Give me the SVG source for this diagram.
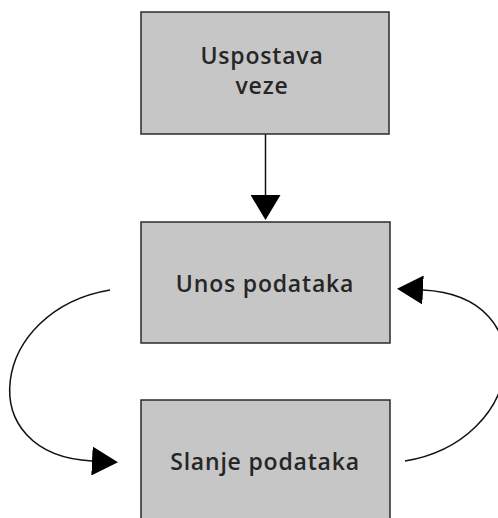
<svg xmlns="http://www.w3.org/2000/svg" width="498" height="518" viewBox="0 0 498 518">
<style>
.box{fill:#c6c6c6;stroke:#2a2a2a;stroke-width:1.5}
.lbl{font-family:"Open Sans","Noto Sans",sans-serif;font-size:23px;font-weight:600;letter-spacing:0.8px;fill:#262626;text-anchor:middle}
.edge{fill:none;stroke:#111;stroke-width:1.5}
</style>
<defs>
<marker id="ah" viewBox="0 0 26 29" refX="0" refY="14.5" markerWidth="26" markerHeight="29" markerUnits="userSpaceOnUse" orient="auto">
<path d="M0,0 L26,14.5 L0,29 Z" fill="#000"/>
</marker>
<marker id="ahv" viewBox="0 0 25 30" refX="0" refY="15" markerWidth="25" markerHeight="30" markerUnits="userSpaceOnUse" orient="auto">
<path d="M0,0 L25,15 L0,30 Z" fill="#000"/>
</marker>
</defs>
<rect width="498" height="518" fill="#fff"/>
<g id="connectors">
<path class="edge" d="M265.5,134 L265.5,195" marker-end="url(#ahv)"/>
<path class="edge" d="M110,290 C-10,310 -30,455 92,461" marker-end="url(#ah)"/>
<path class="edge" d="M405,461 C525,441 545,296 423,290" marker-end="url(#ah)"/>
</g>
<g id="node-uspostava">
<rect class="box" x="141" y="12" width="248" height="122"/>
<text class="lbl" x="262" y="64">Uspostava</text>
<text class="lbl" x="262" y="94">veze</text>
</g>
<g id="node-unos">
<rect class="box" x="141" y="222" width="249" height="121"/>
<text class="lbl" x="265" y="292">Unos podataka</text>
</g>
<g id="node-slanje">
<rect class="box" x="141" y="400" width="249" height="130"/>
<text class="lbl" x="265" y="470">Slanje podataka</text>
</g>
</svg>
